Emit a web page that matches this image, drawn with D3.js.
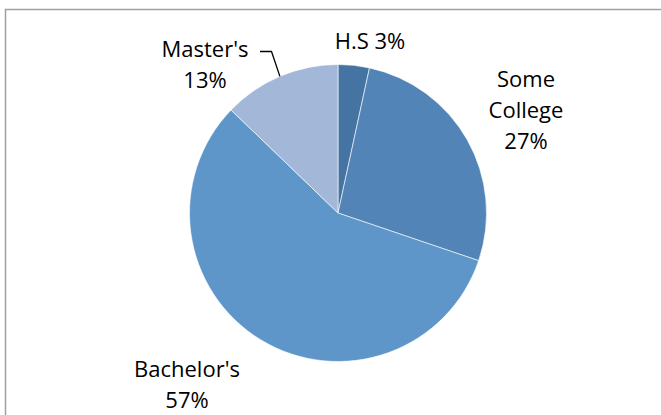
<!DOCTYPE html>
<html>
<head>
<meta charset="utf-8">
<script src="https://cdn.jsdelivr.net/npm/d3@7"></script>
<style>
  body { margin: 0; background: #fff; }
  svg text { font-family: "Open Sans", sans-serif; font-size: 22px; fill: #000; }
</style>
</head>
<body>
<script>
var w = 661;
var h = 415;

// education level shares, clockwise from 12 o'clock
var categories = ["H.S", "Some College", "Bachelor's", "Master's"];
var values = [3.4, 26.8, 57.0, 12.8];
var colors = ["#4674a2", "#5384b8", "#5e96ca", "#a3b7d9"];

var cx = 338, cy = 213, r = 148.5;

var svg = d3.select("body").append("svg")
  .attr("width", w)
  .attr("height", h);

// chart frame (only top and left edges fall inside the picture)
svg.append("rect")
  .attr("x", 5.5).attr("y", 9.5)
  .attr("width", 700).attr("height", 500)
  .attr("fill", "none")
  .attr("stroke", "#a0a0a0")
  .attr("stroke-width", 1.5);

var pie = d3.pie().sort(null).value(function(d){ return d; });
var arcs = pie(values);
var arc = d3.arc().innerRadius(0).outerRadius(r);

var g = svg.append("g").attr("transform", "translate(" + cx + "," + cy + ")");

g.selectAll("path")
  .data(arcs)
  .enter()
  .append("path")
  .attr("d", arc)
  .attr("fill", function(d, i){ return colors[i]; })
  .attr("stroke", "#fff")
  .attr("stroke-width", 0.6);

var total = d3.sum(values);
var pct = function(i){ return Math.round(values[i] / total * 100) + "%"; };

// label lines: [x, first baseline, lines]
var labels = [
  { x: 370, y: 49, lines: [categories[0] + " " + pct(0)] },
  { x: 526, y: 87, lines: ["Some", "College", pct(1)] },
  { x: 187, y: 377, lines: [categories[2], pct(2)] },
  { x: 205, y: 57, lines: [categories[3], pct(3)] }
];

labels.forEach(function(l){
  var t = svg.append("text")
    .attr("text-anchor", "middle")
    .attr("x", l.x)
    .attr("y", l.y);
  l.lines.forEach(function(s, k){
    t.append("tspan")
      .attr("x", l.x)
      .attr("dy", k == 0 ? 0 : 31)
      .text(s);
  });
});

// leader line for Master's
var m = arcs[3];
var mid = (m.startAngle + m.endAngle) / 2;
var ex = cx + r * Math.sin(mid), ey = cy - r * Math.cos(mid);
svg.append("path")
  .attr("d", "M260," + 51.5 + "H271.5L" + ex + "," + ey)
  .attr("fill", "none")
  .attr("stroke", "#000")
  .attr("stroke-width", 1.3);
</script>
</body>
</html>
